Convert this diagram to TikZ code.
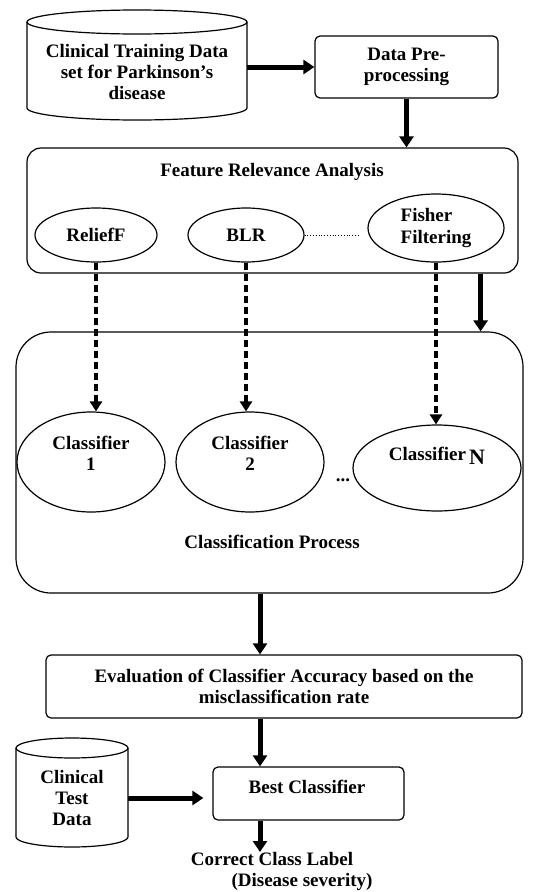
\documentclass[tikz,border=0pt]{standalone}
\usepackage{fontspec}
\setmainfont{Liberation Serif}
\usetikzlibrary{arrows.meta,shapes.geometric}
\begin{document}
\begin{tikzpicture}[x=1pt,y=-1pt, font=\bfseries\fontsize{19}{21}\selectfont,
 box/.style={draw, line width=1.2pt, rounded corners=5pt, inner sep=0pt},
 ell/.style={draw, ellipse, line width=1.2pt, inner sep=0pt},
 txt/.style={align=center, inner sep=0pt},
 cyl/.style={draw, line width=1.2pt},
 bigarrow/.style={line width=5pt, -{Triangle[length=11pt,width=14pt]}},
 dasharrow/.style={line width=3.2pt, dash pattern=on 7pt off 4pt, -{Triangle[length=10pt,width=12pt]}},
]
\useasboundingbox (0,0) rectangle (551,892);

% training data cylinder
\draw[cyl] (27,22) -- (27,108) arc[start angle=180,end angle=0,x radius=110,y radius=12] -- (247,22);
\draw[cyl] (137,22) ellipse [x radius=110,y radius=12];
\node[txt, minimum width=220pt, minimum height=80pt] (train) at (137,72) {Clinical Training Data\\set for Parkinson's\\disease};

\node[box, minimum width=183pt, minimum height=62pt, align=center] (pre) at (406.5,67) {Data Pre-\\processing};
\draw[bigarrow] (pre.west -| train.east) -- (pre.west);

% feature relevance
\node[box, rounded corners=14pt, minimum width=491pt, minimum height=125pt] (feat) at (272.5,210.5) {};
\node[txt] (ftitle) at (272,172) {Feature Relevance Analysis};
\draw[bigarrow] (pre.south) -- (pre.south |- feat.north);

\node[ell, minimum width=122pt, minimum height=54pt] (relief) at (96,235) {ReliefF};
\node[ell, minimum width=116pt, minimum height=54pt] (blr) at (246,235) {BLR};
\node[ell, minimum width=136pt, minimum height=68pt, align=left] (fisher) at (436,228) {Fisher\\Filtering};
\coordinate (dotend) at (358,235);
\draw[line width=0.8pt, dotted] (blr.east) -- (dotend);

% classification
\node[box, rounded corners=35pt, minimum width=507pt, minimum height=261pt] (cls) at (269.5,462.5) {};
\draw[bigarrow] ([xshift=-38pt]feat.south east) -- ([xshift=-38pt]feat.south east |- cls.north);

\node[ell, minimum width=148pt, minimum height=100pt] (c1) at (91,462) {};
\node[txt] (c1t) at (91,453) {Classifier\\1};
\node[ell, minimum width=148pt, minimum height=100pt] (c2) at (250,462) {};
\node[txt] (c2t) at (250,453) {Classifier\\2};
\node[ell, minimum width=168pt, minimum height=86pt] (cN) at (437,468) {};
\node[txt] (cNt) at (437,456) {Classifier\,\raisebox{-4pt}{\fontsize{22}{22}\selectfont N}};
\node[txt] (dots) at (343,480) {...};
\node[txt] (clstitle) at (272,542) {Classification Process};

\draw[dasharrow] (relief.south) -- (relief.south |- c1.north);
\draw[dasharrow] (blr.south) -- (blr.south |- c2.north);
\draw[dasharrow] (fisher.south) -- (fisher.south |- cN.north);

% evaluation
\node[box, minimum width=476pt, minimum height=63pt, align=center] (eval) at (284,686.5) {Evaluation of Classifier Accuracy based on the\\misclassification rate};
\draw[bigarrow] ([xshift=-9.5pt]cls.south) -- ([xshift=-9.5pt]cls.south |- eval.north);

\node[box, minimum width=191pt, minimum height=53pt] (best) at (308.5,793.5) {};
\node[txt] (bestt) at (307,787) {Best Classifier};
\draw[bigarrow] ([xshift=-24pt]eval.south) -- ([xshift=-24pt]eval.south |- best.north);

% test data cylinder
\draw[cyl] (16,748) -- (16,837) arc[start angle=180,end angle=0,x radius=56,y radius=10] -- (128,748);
\draw[cyl] (72,748) ellipse [x radius=56,y radius=10];
\node[txt, minimum width=112pt, minimum height=60pt] (test) at (72,798) {Clinical\\Test\\Data};
\draw[bigarrow, shorten >=9pt] (test.east) -- (test.east -| best.west);

\coordinate (outend) at (260,852);
\draw[bigarrow] ([xshift=-48.5pt]best.south) -- (outend);
\node[txt] (lab1) at (272,859) {Correct Class Label};
\node[txt] (lab2) at (302,882) {(Disease severity)};
\end{tikzpicture}
\end{document}
